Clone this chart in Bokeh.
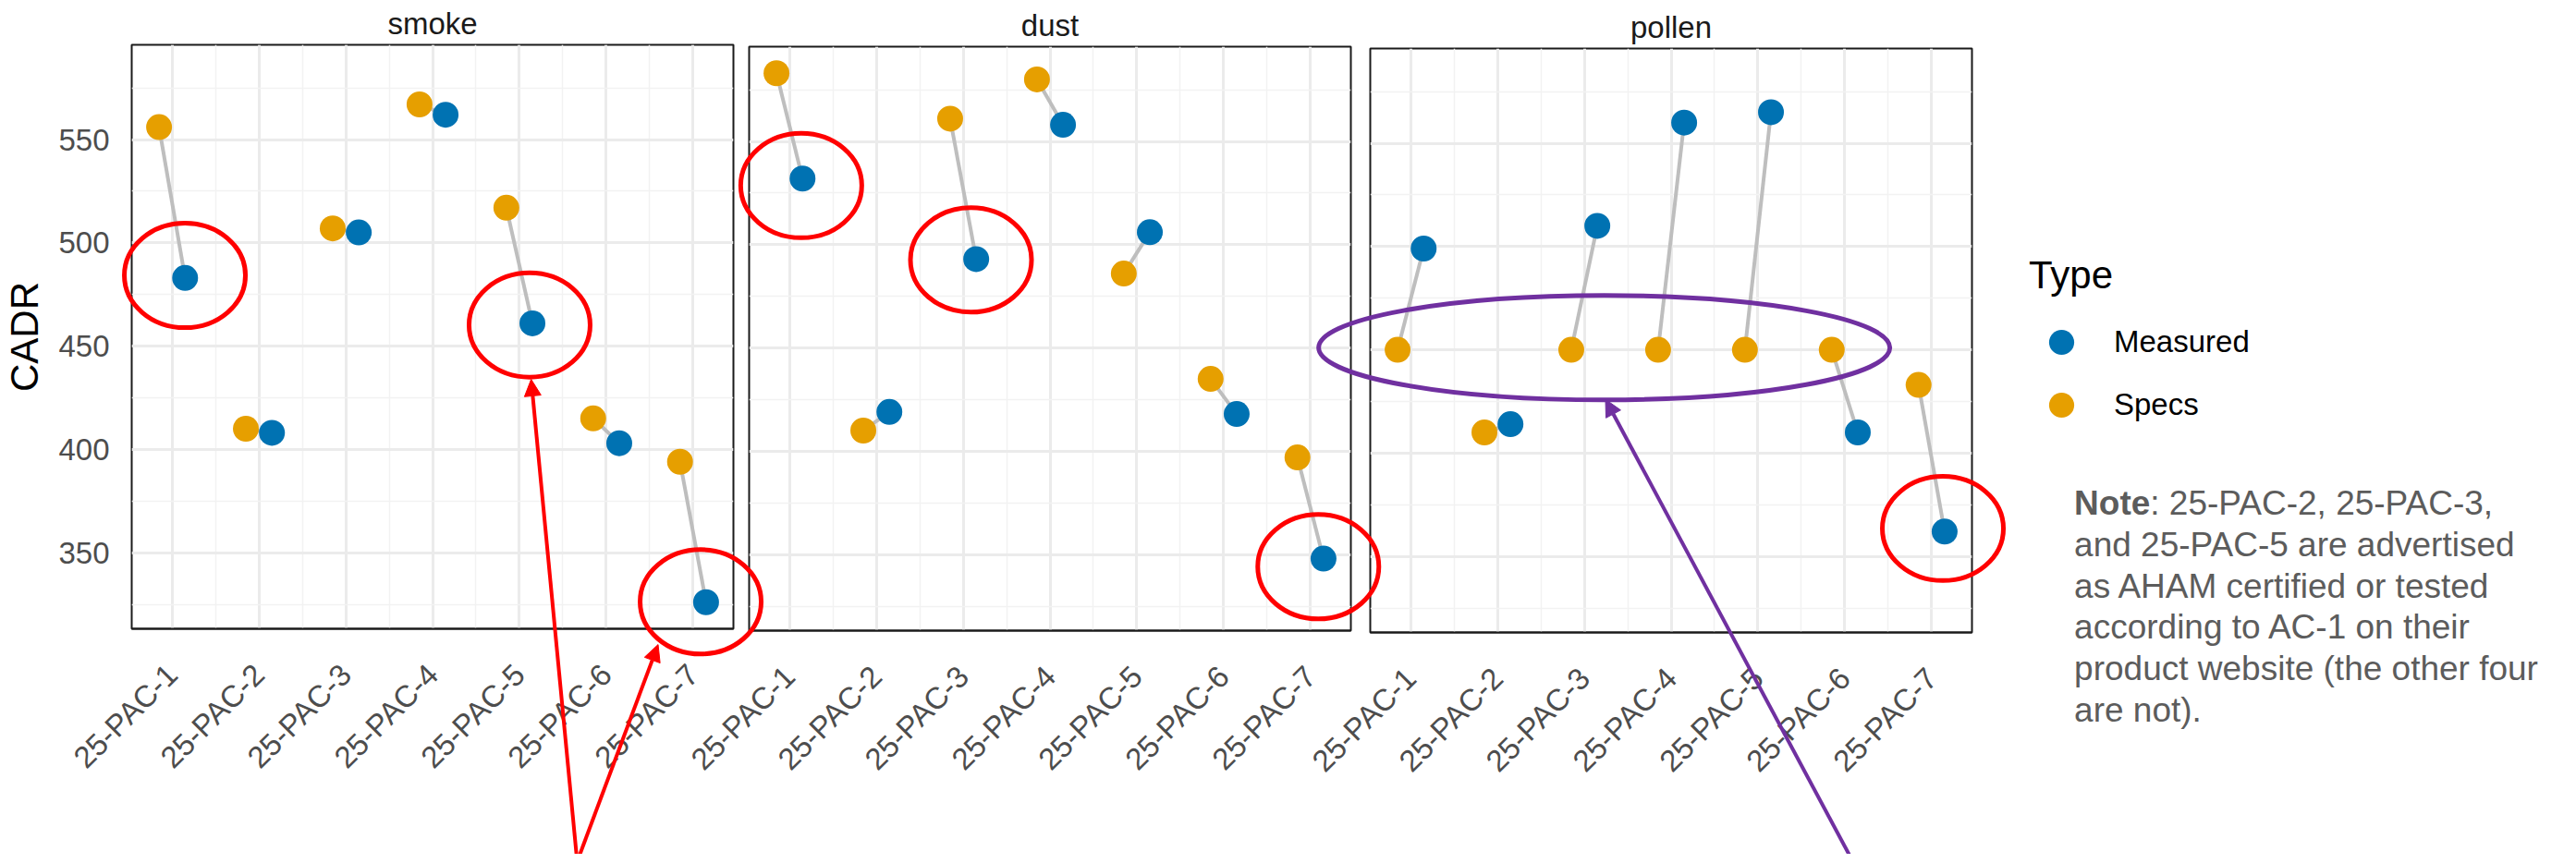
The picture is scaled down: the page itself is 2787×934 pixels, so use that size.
import math
from bokeh.plotting import figure
from bokeh.models import (Range1d, FixedTicker, ColumnDataSource, Label, Arrow, NormalHead,
                          Legend, LegendItem, Title)
from bokeh.transform import dodge
from bokeh.layouts import column
from bokeh.embed import file_html
from bokeh.resources import INLINE

# ---------------- data ----------------
categories = ["25-PAC-1", "25-PAC-2", "25-PAC-3", "25-PAC-4", "25-PAC-5", "25-PAC-6", "25-PAC-7"]
facets = ["smoke", "dust", "pollen"]
smoke_specs = [556, 410, 507, 567, 517, 415, 394]
smoke_measured = [483, 408, 505, 562, 461, 403, 326]
dust_specs = [583, 410, 561, 580, 486, 435, 397]
dust_measured = [532, 419, 493, 558, 506, 418, 348]
pollen_specs = [450, 410, 450, 450, 450, 450, 433]
pollen_measured = [499, 414, 510, 560, 565, 410, 362]
y_major = [350, 400, 450, 500, 550]
y_minor = [325, 375, 425, 475, 525, 575]
note_bold = "Note"
note_lines = [": 25-PAC-2, 25-PAC-3,",
              "and 25-PAC-5 are advertised",
              "as AHAM certified or tested",
              "according to AC-1 on their",
              "product website (the other four",
              "are not)."]

panels = [(facets[0], smoke_specs, smoke_measured),
          (facets[1], dust_specs, dust_measured),
          (facets[2], pollen_specs, pollen_measured)]

MEAS_C = "#0072B2"
SPEC_C = "#E69F00"
FONT = "Liberation Sans"
DODGE = 0.15

n = len(categories)
xpos = list(range(1, n + 1))
x_lo, x_hi = 1 - DODGE, n + DODGE
X0, X1 = x_lo - 0.05 * (x_hi - x_lo), x_hi + 0.05 * (x_hi - x_lo)
allv = smoke_specs + smoke_measured + dust_specs + dust_measured + pollen_specs + pollen_measured
vmin, vmax = min(allv), max(allv)
Y0, Y1 = vmin - 0.05 * (vmax - vmin), vmax + 0.05 * (vmax - vmin)

# ---------------- layout (all figures share one canvas area, stacked) ----------------
CANVAS_W, CANVAS_H = 2771, 918
TOP, BOTTOM = 46, 240
FRAME_W = 651
FRAME_H = CANVAS_H - TOP - BOTTOM
FRAME_L = [138, 810, 1482]
XS = FRAME_W / (X1 - X0)
YS = FRAME_H / (Y1 - Y0)


def gx(k, x):
    return FRAME_L[k] + (x - X0) * XS


def gy(y):
    return TOP + (Y1 - y) * YS


# annotation shapes in panel data coords: (panel, centre x, centre y, rx px, ry px, colour)
rings = [(0, 1.19, 486, 65.5, 56.5, "#FF0000"),
         (0, 5.16, 462, 65.5, 56.5, "#FF0000"),
         (0, 7.13, 328, 65.5, 56.5, "#FF0000"),
         (1, 1.135, 529.5, 65.5, 56.5, "#FF0000"),
         (1, 3.09, 493.5, 65.5, 56.5, "#FF0000"),
         (1, 7.09, 345, 65.5, 56.5, "#FF0000"),
         (2, 7.13, 363.5, 65.5, 56.5, "#FF0000"),
         (2, 3.23, 451, 309, 56.5, "#7030A0")]
# arrows: (panel, x start, y start, x end, y end, colour)
arrows = [(0, 5.708, 202.2, 5.178, 435.7, "#FF0000"),
          (0, 5.708, 202.2, 6.64, 307.3, "#FF0000"),
          (2, 6.094, 202.2, 3.244, 426.0, "#7030A0")]

children = []
for k, (name, sp, me) in enumerate(panels):
    right_b = 0 if k == 2 else CANVAS_W - FRAME_L[k] - FRAME_W
    p = figure(frame_width=FRAME_W, frame_height=FRAME_H,
               x_range=Range1d(X0, X1), y_range=Range1d(Y0, Y1),
               output_backend="svg", toolbar_location=None, title=None,
               min_border_left=FRAME_L[k], min_border_right=right_b,
               min_border_top=TOP, min_border_bottom=BOTTOM,
               y_axis_location="left" if k == 0 else None)
    p.frame_align = False
    p.background_fill_color = "white"
    p.border_fill_color = "white" if k == 0 else None
    if k > 0:
        p.margin = (-CANVAS_H, 0, 0, 0)
    p.outline_line_color = "#1A1A1A"
    p.outline_line_width = 2

    p.xgrid.ticker = FixedTicker(ticks=xpos, minor_ticks=[i + 0.5 for i in xpos[:-1]])
    p.ygrid.ticker = FixedTicker(ticks=y_major, minor_ticks=y_minor)
    p.grid.grid_line_color = "#EBEBEB"
    p.grid.grid_line_width = 3
    p.grid.minor_grid_line_color = "#F2F2F2"
    p.grid.minor_grid_line_width = 1.5

    xa = p.xaxis[0]
    xa.ticker = FixedTicker(ticks=xpos, minor_ticks=[])
    xa.major_label_overrides = {i + 1: c for i, c in enumerate(categories)}
    xa.major_label_orientation = math.pi / 4
    xa.major_label_text_font = FONT
    xa.major_label_text_font_size = "33px"
    xa.major_label_text_color = "#4D4D4D"
    xa.major_tick_line_color = None
    xa.minor_tick_line_color = None
    xa.major_tick_out = 0
    xa.major_tick_in = 0
    xa.axis_line_color = "#1A1A1A"
    xa.axis_line_width = 2
    xa.major_label_standoff = 44

    if k == 0:
        ya = p.yaxis[0]
        ya.ticker = FixedTicker(ticks=y_major, minor_ticks=y_minor)
        ya.axis_line_color = None
        ya.major_tick_line_color = None
        ya.minor_tick_line_color = None
        ya.major_tick_out = 0
        ya.major_tick_in = 0
        ya.major_label_text_font = FONT
        ya.major_label_text_font_size = "33px"
        ya.major_label_text_color = "#4D4D4D"
        ya.major_label_standoff = 20
        ya.axis_label = "CADR"
        ya.axis_label_text_font = FONT
        ya.axis_label_text_font_size = "42px"
        ya.axis_label_text_font_style = "normal"
        ya.axis_label_text_color = "black"
        ya.axis_label_standoff = 10

    p.add_layout(Title(text=name, align="center", text_font=FONT, text_font_size="33px",
                       text_font_style="normal", text_color="#1A1A1A", standoff=9), "above")

    src = ColumnDataSource(dict(x=xpos, spec=sp, meas=me))
    p.segment(x0=dodge("x", -DODGE), y0="spec", x1=dodge("x", DODGE), y1="meas",
              source=src, line_color="#BEBEBE", line_width=4)
    r_s = p.scatter(x=dodge("x", -DODGE), y="spec", source=src, size=28,
                    fill_color=SPEC_C, line_color=None)
    r_m = p.scatter(x=dodge("x", DODGE), y="meas", source=src, size=28,
                    fill_color=MEAS_C, line_color=None)

    if k == 2:
        legend = Legend(items=[LegendItem(label="Measured", renderers=[r_m]),
                               LegendItem(label="Specs", renderers=[r_s])],
                        location=(62, 212),
                        title="Type", title_text_font=FONT, title_text_font_size="42px",
                        title_text_font_style="normal", title_text_color="black",
                        title_standoff=14,
                        label_text_font=FONT, label_text_font_size="33px", label_text_color="black",
                        glyph_width=70, glyph_height=68, label_height=68, label_standoff=22,
                        spacing=0, padding=0, margin=0,
                        border_line_color=None, background_fill_alpha=0)
        p.add_layout(legend, "right")
    children.append(p)

# ---------------- overlay for hand-drawn highlights and the note ----------------
ov = figure(width=CANVAS_W, height=CANVAS_H, x_range=Range1d(0, CANVAS_W),
            y_range=Range1d(CANVAS_H, 0), output_backend="svg", toolbar_location=None,
            title=None, min_border=0, x_axis_location=None, y_axis_location=None)
ov.frame_align = False
ov.border_fill_color = None
ov.background_fill_color = None
ov.outline_line_color = None
ov.grid.visible = False
ov.margin = (-CANVAS_H, 0, 0, 0)

ring_src = ColumnDataSource(dict(
    x=[gx(r[0], r[1]) for r in rings], y=[gy(r[2]) for r in rings],
    w=[2 * r[3] for r in rings], h=[2 * r[4] for r in rings], c=[r[5] for r in rings]))
ov.ellipse(x="x", y="y", width="w", height="h", width_units="screen", height_units="screen",
           source=ring_src, fill_color=None, line_color="c", line_width=5)
for (h, xs0, ys0, xe, ye, col) in arrows:
    ov.add_layout(Arrow(x_start=gx(h, xs0), y_start=gy(ys0), x_end=gx(h, xe), y_end=gy(ye),
                        line_color=col, line_width=4,
                        end=NormalHead(size=18, fill_color=col, line_color=col, line_width=1)))

NX = 2243.6
BASE0 = 538
STEP = 44.8
ov.add_layout(Label(x=NX, y=BASE0, text=note_bold, text_font=FONT, text_font_size="37px",
                    text_font_style="bold", text_color="#5C5C5C",
                    text_baseline="alphabetic", text_align="left"))
for i, line in enumerate(note_lines):
    ov.add_layout(Label(x=NX + (82.2 if i == 0 else 0), y=BASE0 + i * STEP, text=line,
                        text_font=FONT, text_font_size="37px", text_color="#5C5C5C",
                        text_baseline="alphabetic", text_align="left"))
children.append(ov)

layout = column(*children)
open("out.html", "w").write(file_html(layout, INLINE))
